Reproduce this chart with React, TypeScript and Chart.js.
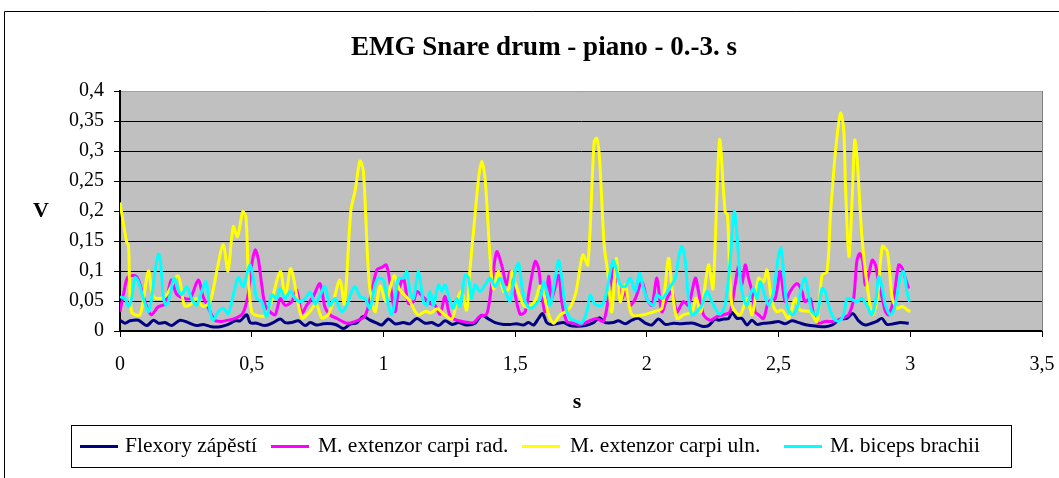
import React, { useEffect, useRef } from 'react';
import { Chart, registerables } from 'chart.js';

Chart.register(...registerables);

// ---- Data (time in s, value in V) ----
const chartTitle = 'EMG Snare drum - piano - 0.-3. s';
const xAxisTitle = 's';
const yAxisTitle = 'V';
const seriesNames = ['Flexory zápěstí', 'M. extenzor carpi rad.', 'M. extenzor carpi uln.', 'M. biceps brachii'];
const seriesColors = ['#000080', '#FF00FF', '#FFFF00', '#00FFFF'];

const flexoryT = [0, 0.019, 0.038, 0.07, 0.101, 0.127, 0.146, 0.171, 0.196, 0.228, 0.259, 0.291, 0.316, 0.348, 0.38, 0.411, 0.437, 0.456, 0.481, 0.494, 0.519, 0.551, 0.582, 0.608, 0.627, 0.652, 0.677, 0.703, 0.722, 0.747, 0.772, 0.804, 0.823, 0.848, 0.873, 0.899, 0.924, 0.949, 0.975, 0.994, 1.019, 1.044, 1.076, 1.101, 1.127, 1.158, 1.184, 1.209, 1.234, 1.26, 1.285, 1.316, 1.348, 1.373, 1.399, 1.424, 1.456, 1.481, 1.506, 1.532, 1.551, 1.57, 1.589, 1.604, 1.62, 1.639, 1.665, 1.685, 1.709, 1.734, 1.766, 1.797, 1.82, 1.842, 1.873, 1.892, 1.918, 1.943, 1.968, 1.994, 2.019, 2.044, 2.07, 2.101, 2.127, 2.152, 2.177, 2.209, 2.234, 2.259, 2.272, 2.291, 2.311, 2.323, 2.342, 2.361, 2.38, 2.399, 2.418, 2.443, 2.475, 2.5, 2.525, 2.551, 2.576, 2.608, 2.646, 2.677, 2.703, 2.735, 2.759, 2.782, 2.804, 2.829, 2.854, 2.873, 2.892, 2.911, 2.937, 2.962, 2.994];
const flexoryV = [0.018, 0.013, 0.017, 0.018, 0.009, 0.018, 0.013, 0.014, 0.009, 0.018, 0.014, 0.009, 0.011, 0.007, 0.007, 0.011, 0.017, 0.017, 0.027, 0.014, 0.013, 0.009, 0.014, 0.02, 0.014, 0.014, 0.017, 0.009, 0.014, 0.01, 0.012, 0.012, 0.01, 0.004, 0.011, 0.014, 0.024, 0.018, 0.013, 0.01, 0.02, 0.012, 0.014, 0.012, 0.021, 0.013, 0.014, 0.009, 0.017, 0.011, 0.014, 0.01, 0.013, 0.026, 0.02, 0.014, 0.011, 0.011, 0.012, 0.01, 0.014, 0.01, 0.021, 0.029, 0.014, 0.011, 0.013, 0.014, 0.009, 0.008, 0.009, 0.014, 0.022, 0.014, 0.014, 0.017, 0.012, 0.018, 0.021, 0.013, 0.01, 0.02, 0.011, 0.013, 0.012, 0.013, 0.013, 0.008, 0.009, 0.02, 0.018, 0.02, 0.021, 0.031, 0.021, 0.021, 0.01, 0.018, 0.011, 0.013, 0.014, 0.016, 0.012, 0.017, 0.014, 0.01, 0.008, 0.007, 0.01, 0.02, 0.021, 0.029, 0.017, 0.01, 0.013, 0.016, 0.021, 0.011, 0.012, 0.014, 0.013];

const radT = [0, 0.015, 0.03, 0.062, 0.081, 0.1, 0.119, 0.144, 0.17, 0.195, 0.214, 0.24, 0.266, 0.297, 0.315, 0.334, 0.36, 0.385, 0.41, 0.442, 0.467, 0.486, 0.5, 0.513, 0.525, 0.538, 0.551, 0.57, 0.589, 0.608, 0.627, 0.652, 0.671, 0.69, 0.709, 0.734, 0.759, 0.778, 0.797, 0.823, 0.861, 0.899, 0.93, 0.956, 0.975, 0.994, 1.011, 1.025, 1.044, 1.057, 1.076, 1.095, 1.114, 1.127, 1.152, 1.177, 1.196, 1.215, 1.234, 1.253, 1.278, 1.31, 1.342, 1.367, 1.392, 1.411, 1.43, 1.45, 1.468, 1.481, 1.5, 1.519, 1.538, 1.557, 1.576, 1.589, 1.601, 1.614, 1.627, 1.639, 1.665, 1.677, 1.696, 1.722, 1.747, 1.778, 1.81, 1.835, 1.854, 1.873, 1.886, 1.905, 1.918, 1.937, 1.956, 1.981, 2.0, 2.019, 2.038, 2.057, 2.076, 2.095, 2.114, 2.139, 2.158, 2.184, 2.196, 2.215, 2.241, 2.266, 2.291, 2.316, 2.335, 2.348, 2.361, 2.373, 2.386, 2.399, 2.411, 2.424, 2.443, 2.462, 2.487, 2.506, 2.525, 2.544, 2.57, 2.589, 2.6, 2.62, 2.633, 2.652, 2.677, 2.709, 2.741, 2.766, 2.785, 2.797, 2.808, 2.82, 2.829, 2.842, 2.856, 2.868, 2.881, 2.894, 2.906, 2.919, 2.937, 2.956, 2.97, 2.981, 2.994];
const radV = [0.032, 0.065, 0.09, 0.091, 0.07, 0.042, 0.027, 0.04, 0.045, 0.085, 0.062, 0.055, 0.054, 0.085, 0.058, 0.04, 0.018, 0.016, 0.018, 0.022, 0.03, 0.06, 0.11, 0.135, 0.12, 0.077, 0.043, 0.032, 0.027, 0.054, 0.043, 0.049, 0.068, 0.03, 0.043, 0.058, 0.079, 0.04, 0.027, 0.021, 0.013, 0.017, 0.025, 0.066, 0.102, 0.106, 0.11, 0.08, 0.032, 0.066, 0.088, 0.046, 0.049, 0.066, 0.056, 0.046, 0.043, 0.028, 0.058, 0.025, 0.018, 0.015, 0.014, 0.025, 0.028, 0.077, 0.132, 0.108, 0.077, 0.099, 0.06, 0.028, 0.032, 0.077, 0.116, 0.104, 0.06, 0.032, 0.091, 0.054, 0.093, 0.049, 0.016, 0.013, 0.01, 0.016, 0.021, 0.016, 0.054, 0.104, 0.088, 0.054, 0.066, 0.043, 0.054, 0.082, 0.054, 0.043, 0.088, 0.032, 0.054, 0.066, 0.032, 0.049, 0.043, 0.088, 0.066, 0.027, 0.018, 0.024, 0.027, 0.032, 0.077, 0.107, 0.077, 0.11, 0.088, 0.066, 0.032, 0.027, 0.021, 0.049, 0.054, 0.099, 0.049, 0.066, 0.079, 0.066, 0.049, 0.054, 0.027, 0.013, 0.016, 0.016, 0.021, 0.027, 0.054, 0.116, 0.129, 0.116, 0.077, 0.093, 0.118, 0.11, 0.077, 0.054, 0.032, 0.027, 0.054, 0.11, 0.104, 0.088, 0.071];

const ulnT = [0, 0.025, 0.032, 0.044, 0.076, 0.108, 0.127, 0.17, 0.22, 0.245, 0.27, 0.29, 0.315, 0.342, 0.367, 0.392, 0.41, 0.43, 0.446, 0.466, 0.478, 0.5, 0.555, 0.608, 0.627, 0.649, 0.69, 0.72, 0.745, 0.766, 0.79, 0.81, 0.835, 0.852, 0.876, 0.893, 0.911, 0.924, 0.946, 0.968, 0.987, 1.01, 1.04, 1.06, 1.08, 1.1, 1.13, 1.16, 1.18, 1.205, 1.23, 1.26, 1.28, 1.297, 1.316, 1.33, 1.345, 1.361, 1.373, 1.386, 1.405, 1.418, 1.437, 1.456, 1.475, 1.487, 1.5, 1.532, 1.55, 1.575, 1.595, 1.61, 1.625, 1.646, 1.671, 1.69, 1.71, 1.73, 1.757, 1.776, 1.8, 1.81, 1.82, 1.838, 1.851, 1.867, 1.884, 1.899, 1.918, 1.943, 1.987, 2.025, 2.057, 2.082, 2.094, 2.114, 2.139, 2.171, 2.187, 2.205, 2.234, 2.251, 2.276, 2.297, 2.306, 2.323, 2.354, 2.38, 2.4, 2.424, 2.443, 2.456, 2.475, 2.494, 2.513, 2.538, 2.563, 2.582, 2.62, 2.646, 2.665, 2.684, 2.697, 2.716, 2.735, 2.747, 2.754, 2.767, 2.78, 2.789, 2.798, 2.817, 2.836, 2.856, 2.875, 2.894, 2.913, 2.932, 2.951, 2.97, 2.989, 3.0];
const ulnV = [0.214, 0.149, 0.143, 0.032, 0.027, 0.1, 0.057, 0.057, 0.092, 0.042, 0.045, 0.054, 0.041, 0.049, 0.099, 0.144, 0.1, 0.174, 0.157, 0.199, 0.19, 0.032, 0.027, 0.099, 0.055, 0.104, 0.022, 0.032, 0.045, 0.022, 0.027, 0.05, 0.085, 0.045, 0.199, 0.235, 0.283, 0.266, 0.08, 0.032, 0.075, 0.05, 0.092, 0.07, 0.06, 0.05, 0.027, 0.033, 0.03, 0.037, 0.028, 0.02, 0.052, 0.066, 0.035, 0.11, 0.18, 0.254, 0.283, 0.254, 0.121, 0.07, 0.099, 0.066, 0.07, 0.099, 0.08, 0.043, 0.04, 0.05, 0.075, 0.06, 0.03, 0.013, 0.027, 0.032, 0.04, 0.063, 0.127, 0.11, 0.316, 0.321, 0.29, 0.143, 0.099, 0.032, 0.121, 0.049, 0.077, 0.027, 0.027, 0.032, 0.038, 0.121, 0.077, 0.021, 0.027, 0.032, 0.055, 0.032, 0.11, 0.071, 0.318, 0.199, 0.193, 0.043, 0.027, 0.054, 0.027, 0.088, 0.082, 0.102, 0.049, 0.032, 0.035, 0.021, 0.054, 0.035, 0.032, 0.016, 0.093, 0.099, 0.193, 0.299, 0.363, 0.338, 0.243, 0.124, 0.227, 0.318, 0.288, 0.154, 0.077, 0.027, 0.054, 0.141, 0.132, 0.054, 0.038, 0.041, 0.035, 0.032];

const bicepsT = [0, 0.019, 0.032, 0.044, 0.057, 0.07, 0.089, 0.108, 0.12, 0.133, 0.146, 0.154, 0.165, 0.177, 0.19, 0.205, 0.222, 0.234, 0.253, 0.272, 0.291, 0.31, 0.327, 0.342, 0.354, 0.373, 0.392, 0.411, 0.43, 0.449, 0.468, 0.484, 0.494, 0.506, 0.519, 0.538, 0.557, 0.576, 0.595, 0.608, 0.627, 0.646, 0.665, 0.684, 0.703, 0.722, 0.741, 0.76, 0.778, 0.797, 0.816, 0.842, 0.861, 0.88, 0.892, 0.911, 0.93, 0.949, 0.968, 0.981, 1.0, 1.019, 1.032, 1.044, 1.057, 1.076, 1.089, 1.101, 1.114, 1.133, 1.152, 1.165, 1.177, 1.19, 1.209, 1.222, 1.234, 1.253, 1.266, 1.278, 1.291, 1.31, 1.323, 1.335, 1.348, 1.367, 1.386, 1.405, 1.424, 1.443, 1.462, 1.481, 1.5, 1.513, 1.525, 1.538, 1.557, 1.576, 1.595, 1.608, 1.62, 1.633, 1.652, 1.665, 1.677, 1.69, 1.709, 1.734, 1.753, 1.772, 1.785, 1.797, 1.81, 1.83, 1.848, 1.861, 1.873, 1.886, 1.899, 1.918, 1.937, 1.956, 1.972, 1.987, 2.006, 2.025, 2.038, 2.057, 2.07, 2.089, 2.108, 2.12, 2.133, 2.146, 2.158, 2.171, 2.19, 2.209, 2.228, 2.241, 2.259, 2.278, 2.297, 2.316, 2.332, 2.342, 2.354, 2.367, 2.38, 2.392, 2.405, 2.418, 2.43, 2.443, 2.462, 2.481, 2.498, 2.509, 2.519, 2.532, 2.551, 2.57, 2.589, 2.601, 2.614, 2.627, 2.646, 2.665, 2.677, 2.69, 2.709, 2.728, 2.747, 2.76, 2.78, 2.798, 2.816, 2.835, 2.854, 2.87, 2.88, 2.894, 2.906, 2.925, 2.943, 2.962, 2.975, 2.987, 2.997];
const bicepsV = [0.057, 0.054, 0.041, 0.054, 0.089, 0.082, 0.054, 0.032, 0.054, 0.099, 0.128, 0.116, 0.054, 0.043, 0.06, 0.088, 0.068, 0.06, 0.074, 0.054, 0.043, 0.066, 0.082, 0.032, 0.018, 0.032, 0.038, 0.029, 0.06, 0.089, 0.074, 0.099, 0.11, 0.088, 0.054, 0.049, 0.024, 0.06, 0.054, 0.071, 0.054, 0.066, 0.054, 0.049, 0.054, 0.065, 0.045, 0.06, 0.074, 0.043, 0.054, 0.032, 0.043, 0.066, 0.074, 0.057, 0.054, 0.038, 0.077, 0.088, 0.085, 0.043, 0.027, 0.054, 0.088, 0.088, 0.099, 0.066, 0.054, 0.099, 0.049, 0.043, 0.066, 0.043, 0.077, 0.066, 0.077, 0.049, 0.038, 0.054, 0.041, 0.093, 0.088, 0.054, 0.077, 0.066, 0.077, 0.088, 0.074, 0.088, 0.066, 0.05, 0.099, 0.113, 0.077, 0.049, 0.038, 0.043, 0.054, 0.082, 0.066, 0.043, 0.088, 0.118, 0.088, 0.043, 0.021, 0.016, 0.013, 0.032, 0.06, 0.049, 0.043, 0.043, 0.066, 0.099, 0.118, 0.099, 0.077, 0.074, 0.088, 0.066, 0.096, 0.071, 0.049, 0.043, 0.06, 0.054, 0.06, 0.074, 0.088, 0.121, 0.141, 0.116, 0.054, 0.027, 0.032, 0.043, 0.066, 0.055, 0.038, 0.028, 0.043, 0.116, 0.199, 0.16, 0.088, 0.054, 0.043, 0.06, 0.071, 0.054, 0.082, 0.066, 0.043, 0.066, 0.121, 0.138, 0.099, 0.043, 0.027, 0.038, 0.077, 0.088, 0.06, 0.032, 0.027, 0.071, 0.066, 0.043, 0.021, 0.016, 0.027, 0.054, 0.052, 0.049, 0.054, 0.043, 0.027, 0.054, 0.091, 0.071, 0.043, 0.027, 0.043, 0.091, 0.099, 0.066, 0.049];

const seriesTimes = [flexoryT, radT, ulnT, bicepsT];
const seriesValues = [flexoryV, radV, ulnV, bicepsV];

const X_MIN = 0, X_MAX = 3.5, X_STEP = 0.5;
const Y_MIN = 0, Y_MAX = 0.4, Y_STEP = 0.05;

// ---- Layout / style constants ----
const W = 1059, H = 478;
const FONT = '"Liberation Serif", "Times New Roman", serif';
const legendBox = { x: 71, y: 425, w: 940, h: 42 };
const legendSampleX = [80, 271, 522, 784];
const legendTextX = [125, 318, 570, 830];

const fmt = (v: number) => {
  const r = Math.round(v * 100) / 100;
  return String(r).replace('.', ',');
};

const decorPlugin = {
  id: 'excelDecor',
  beforeDraw(chart: any) {
    const { ctx, chartArea } = chart;
    ctx.save();
    ctx.fillStyle = '#FFFFFF';
    ctx.fillRect(0, 0, chart.width, chart.height);
    ctx.fillStyle = '#C0C0C0';
    ctx.fillRect(chartArea.left, chartArea.top, chartArea.right - chartArea.left, chartArea.bottom - chartArea.top);
    ctx.restore();
  },
  afterDraw(chart: any) {
    const { ctx, chartArea } = chart;
    ctx.save();
    // plot area border (right side)
    ctx.strokeStyle = '#808080';
    ctx.lineWidth = 1;
    ctx.beginPath();
    ctx.moveTo(chartArea.right + 0.5, chartArea.top);
    ctx.lineTo(chartArea.right + 0.5, chartArea.bottom);
    ctx.stroke();
    // outer frame
    ctx.strokeStyle = '#000';
    ctx.beginPath();
    ctx.moveTo(4.5, H + 2);
    ctx.lineTo(4.5, 11.5);
    ctx.lineTo(W + 2, 11.5);
    ctx.stroke();
    // title
    ctx.fillStyle = '#000';
    ctx.textAlign = 'center';
    ctx.textBaseline = 'middle';
    ctx.font = `bold 27px ${FONT}`;
    ctx.fillText(chartTitle, 544, 48);
    // axis titles
    ctx.font = `bold 22px ${FONT}`;
    ctx.fillText(yAxisTitle, 41, 211);
    ctx.fillText(xAxisTitle, 577, 402);
    // legend
    ctx.strokeStyle = '#000';
    ctx.lineWidth = 1;
    ctx.strokeRect(legendBox.x + 0.5, legendBox.y + 0.5, legendBox.w, legendBox.h);
    const cy = legendBox.y + legendBox.h / 2 + 0.5;
    ctx.font = `21.5px ${FONT}`;
    ctx.textAlign = 'left';
    seriesNames.forEach((name, i) => {
      ctx.strokeStyle = seriesColors[i];
      ctx.lineWidth = 3;
      ctx.beginPath();
      ctx.moveTo(legendSampleX[i], cy);
      ctx.lineTo(legendSampleX[i] + 38, cy);
      ctx.stroke();
      ctx.fillStyle = '#000';
      ctx.fillText(name, legendTextX[i], cy);
    });
    ctx.restore();
  },
};

export default function App() {
  const canvasRef = useRef<HTMLCanvasElement | null>(null);

  useEffect(() => {
    if (!canvasRef.current) return;
    const datasets = seriesNames.map((name, i) => ({
      label: name,
      data: seriesTimes[i].map((t, j) => ({ x: t, y: seriesValues[i][j] })),
      borderColor: seriesColors[i],
      backgroundColor: seriesColors[i],
      borderWidth: 3,
      pointRadius: 0,
      tension: 0.3,
      fill: false,
      order: seriesNames.length - i,
    }));
    const chart = new Chart(canvasRef.current, {
      type: 'line',
      data: { datasets },
      options: {
        animation: false,
        responsive: false,
        devicePixelRatio: 1,
        layout: { padding: { left: 0, top: 91, right: 17, bottom: 87 } },
        plugins: {
          legend: { display: false },
          title: { display: false },
          tooltip: { enabled: false },
        },
        scales: {
          x: {
            type: 'linear',
            min: X_MIN,
            max: X_MAX,
            afterFit: (s: any) => { s.height = 60; s.paddingLeft = 0; s.paddingRight = 0; },
            ticks: {
              stepSize: X_STEP,
              autoSkip: false,
              maxRotation: 0,
              padding: 16,
              color: '#000',
              font: { family: FONT, size: 20 },
              callback: (v: any) => fmt(Number(v)),
            },
            grid: { drawOnChartArea: false, drawTicks: true, tickLength: 6, color: '#000', lineWidth: 1 },
            border: { display: true, color: '#000', width: 2 },
          },
          y: {
            type: 'linear',
            min: Y_MIN,
            max: Y_MAX,
            afterFit: (s: any) => { s.width = 120; },
            ticks: {
              stepSize: Y_STEP,
              padding: 10,
              color: '#000',
              font: { family: FONT, size: 20 },
              callback: (v: any) => fmt(Number(v)),
            },
            grid: {
              drawTicks: true,
              tickLength: 6,
              color: (c: any) => (c.tick && Math.abs(c.tick.value - Y_MAX) < 1e-6 ? '#A0A0A0' : '#000'),
              tickColor: '#000',
              lineWidth: 1,
            },
            border: { display: true, color: '#000', width: 2 },
          },
        },
      },
      plugins: [decorPlugin],
    });
    return () => chart.destroy();
  }, []);

  return (
    <div style={{ position: 'absolute', left: 0, top: 0, width: W, height: H, background: '#fff' }}>
      <canvas ref={canvasRef} width={W} height={H} style={{ display: 'block', width: W, height: H }} />
    </div>
  );
}
